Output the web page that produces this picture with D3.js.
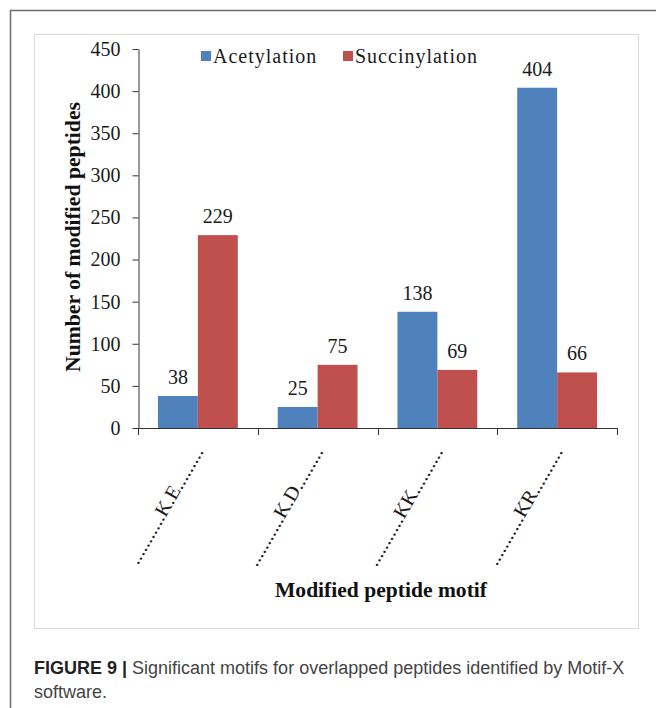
<!DOCTYPE html>
<html>
<head>
<meta charset="utf-8">
<script src="https://cdn.jsdelivr.net/npm/d3@7"></script>
<style>
  html, body { margin: 0; padding: 0; background: #fff; }
  svg { display: block; }
</style>
</head>
<body>
<svg id="chart" width="656" height="708"></svg>
<script>
// Motif categories and peptide counts per modification type
const motifs = ["...........K.E.........", "...........K.D.........", "...........KK..........", "...........KR.........."];
const seriesNames = ["Acetylation", "Succinylation"];
const acetylation = [38, 25, 138, 404];
const succinylation = [229, 75, 69, 66];
const yTicks = [0, 50, 100, 150, 200, 250, 300, 350, 400, 450];
const colors = ["#4F81BD", "#C0504D"];

const rows = motifs.map((m, i) => ({ motif: m, values: [acetylation[i], succinylation[i]] }));

const svg = d3.select("#chart");
const serif = "Liberation Serif, Times New Roman, serif";

// Outer figure frame (left and top rules)
svg.append("path")
  .attr("d", "M10.5,708 V10.5 H656")
  .attr("fill", "none").attr("stroke", "#6e6e6e").attr("stroke-width", 1.5);

// Chart area border
svg.append("rect")
  .attr("x", 34.5).attr("y", 34.5).attr("width", 604).attr("height", 594)
  .attr("fill", "#fff").attr("stroke", "#d9d9d9").attr("stroke-width", 1);

const x0 = d3.scaleBand().domain(motifs).range([138, 617]).paddingInner(0).paddingOuter(0);
const x1 = d3.scaleBand().domain(seriesNames).range([0, x0.bandwidth()]).paddingInner(0).paddingOuter(0.5);
const y = d3.scaleLinear().domain([0, 450]).range([428, 49]);

// Bars
const groups = svg.append("g").selectAll("g").data(rows).join("g")
  .attr("transform", d => `translate(${x0(d.motif)},0)`);

groups.selectAll("rect")
  .data(d => d.values.map((v, k) => ({ key: seriesNames[k], value: v, k })))
  .join("rect")
  .attr("x", d => x1(d.key))
  .attr("y", d => y(d.value))
  .attr("width", x1.bandwidth())
  .attr("height", d => y(0) - y(d.value))
  .attr("fill", d => colors[d.k]);

// Value labels above bars
groups.selectAll("text")
  .data(d => d.values.map((v, k) => ({ key: seriesNames[k], value: v })))
  .join("text")
  .attr("x", d => x1(d.key) + x1.bandwidth() / 2)
  .attr("y", d => y(d.value) - 12)
  .attr("text-anchor", "middle")
  .attr("font-family", serif).attr("font-size", 20).attr("fill", "#1a1a1a")
  .text(d => d.value);

// Y axis
const yAxis = svg.append("g").attr("transform", "translate(138.5,0)")
  .call(d3.axisLeft(y).tickValues(yTicks).tickSize(6).tickSizeOuter(0).tickPadding(12));
yAxis.select(".domain").attr("stroke", "#333");
yAxis.selectAll(".tick line").attr("stroke", "#333");
yAxis.selectAll(".tick text")
  .attr("font-family", serif).attr("font-size", 20).attr("fill", "#1a1a1a");

// X axis line with ticks at category boundaries
const xg = svg.append("g");
xg.append("line")
  .attr("x1", x0.range()[0]).attr("x2", x0.range()[1])
  .attr("y1", y(0) + 0.5).attr("y2", y(0) + 0.5)
  .attr("stroke", "#333");
const bounds = motifs.map(m => x0(m)).concat([x0.range()[1]]);
xg.selectAll("line.tk").data(bounds).join("line").attr("class", "tk")
  .attr("x1", d => Math.round(d) + 0.5).attr("x2", d => Math.round(d) + 0.5)
  .attr("y1", y(0)).attr("y2", y(0) + 7)
  .attr("stroke", "#333");

// Rotated category labels
xg.selectAll("text").data(motifs).join("text")
  .attr("transform", d => `translate(${x0(d) + x0.bandwidth() / 2},${y(0) + 20}) rotate(-60)`)
  .attr("text-anchor", "end")
  .attr("dy", "0.35em")
  .attr("font-family", serif).attr("font-size", 20).attr("fill", "#1a1a1a")
  .text(d => d);

// Axis titles
svg.append("text")
  .attr("transform", "translate(80,237) rotate(-90)")
  .attr("text-anchor", "middle")
  .attr("font-family", serif).attr("font-size", 20).attr("font-weight", "bold").attr("fill", "#111")
  .attr("textLength", 270).attr("lengthAdjust", "spacingAndGlyphs")
  .text("Number of modified peptides");

svg.append("text")
  .attr("x", 381).attr("y", 597)
  .attr("text-anchor", "middle")
  .attr("font-family", serif).attr("font-size", 21).attr("font-weight", "bold").attr("fill", "#111")
  .attr("textLength", 212).attr("lengthAdjust", "spacingAndGlyphs")
  .text("Modified peptide motif");

// Legend
const legendX = [201, 343];
const legend = svg.append("g").selectAll("g").data(seriesNames).join("g")
  .attr("transform", (d, i) => `translate(${legendX[i]},51)`);
legend.append("rect").attr("width", 10).attr("height", 10).attr("fill", (d, i) => colors[i]);
legend.append("text")
  .attr("x", 12).attr("y", 12)
  .attr("font-family", serif).attr("font-size", 20).attr("fill", "#1a1a1a")
  .attr("letter-spacing", 1)
  .text(d => d);

// Caption
const cap = svg.append("text")
  .attr("x", 34).attr("y", 674)
  .attr("font-family", "Liberation Sans, Arial, sans-serif").attr("font-size", 18).attr("fill", "#444");
cap.append("tspan").attr("font-weight", "bold").attr("fill", "#222").text("FIGURE 9 | ");
cap.append("tspan").text("Significant motifs for overlapped peptides identified by Motif-X");
svg.append("text")
  .attr("x", 34).attr("y", 698)
  .attr("font-family", "Liberation Sans, Arial, sans-serif").attr("font-size", 18).attr("fill", "#444")
  .text("software.");
</script>
</body>
</html>
